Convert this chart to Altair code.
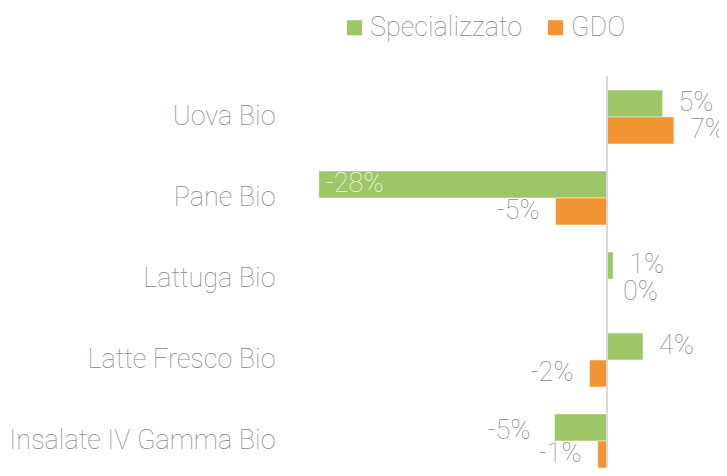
import altair as alt
import pandas as pd

categories = ["Uova Bio", "Pane Bio", "Lattuga Bio", "Latte Fresco Bio", "Insalate IV Gamma Bio"]
series = ["Specializzato", "GDO"]
specializzato = [5.4, -28.0, 0.6, 3.5, -5.1]
gdo = [6.5, -5.0, 0.0, -1.7, -0.9]
spec_labels = ["5%", "-28%", "1%", "4%", "-5%"]
gdo_labels = ["7%", "-5%", "0%", "-2%", "-1%"]
colors = ["#9DC767", "#F39433"]

rows = []
for i, c in enumerate(categories):
    for s, vals, labs in ((series[0], specializzato, spec_labels), (series[1], gdo, gdo_labels)):
        v = vals[i]
        side = "pos" if v >= 0 else "neg"
        if v <= -20:
            side = "inside"
        if c == "Insalate IV Gamma Bio" and s == "Specializzato":
            side = "lead"
        rows.append({"cat": c, "series": s, "value": v, "label": labs[i], "side": side})
df = pd.DataFrame(rows)

FONT = "Roboto"
W = 100
GRAY = "#8a8a8a"
DOMAIN = [-30.8, 10.88]

y = alt.Y("cat:N", sort=categories, title=None,
          scale=alt.Scale(paddingInner=1/3, paddingOuter=0.0864, align=1),
          axis=alt.Axis(labelFont=FONT, labelFontSize=27, labelFontWeight=W, labelColor=GRAY,
                        labelPadding=15, labelLimit=0, ticks=False, domain=False, grid=False))
yoff = alt.YOffset("series:N", sort=series, scale=alt.Scale(paddingInner=0, paddingOuter=0))
x = alt.X("value:Q", title=None, axis=None, scale=alt.Scale(domain=DOMAIN, nice=False, zero=False))

base = alt.Chart(df)

bars = base.mark_bar(stroke="white", strokeWidth=0.8, strokeOpacity=0.6).encode(
    x=x, y=y, yOffset=yoff,
    color=alt.Color("series:N", sort=series,
                    scale=alt.Scale(domain=series, range=colors),
                    legend=alt.Legend(orient="none", legendX=51, legendY=-62, direction="horizontal",
                                      title=None, symbolType="square", symbolSize=225, symbolStrokeWidth=0,
                                      labelFont=FONT, labelFontSize=27, labelFontWeight=W,
                                      labelColor=GRAY, labelOffset=2, columnPadding=19))
)

txt_kw = dict(font=FONT, fontSize=27, fontWeight=W, baseline="middle")
pos_txt = base.transform_filter("datum.side == 'pos'").mark_text(align="left", dx=16, color=GRAY, **txt_kw).encode(
    x=x, y=y, yOffset=yoff, text="label:N")
neg_txt = base.transform_filter("datum.side == 'neg'").mark_text(align="right", dx=-16, color=GRAY, **txt_kw).encode(
    x=x, y=y, yOffset=yoff, text="label:N")
lead_txt = base.transform_filter("datum.side == 'lead'").mark_text(align="right", dx=-24, dy=4, color=GRAY, **txt_kw).encode(
    x=x, y=y, yOffset=yoff, text="label:N")
in_txt = base.transform_filter("datum.side == 'inside'").mark_text(align="left", dx=7, color="#f2f7ea", **txt_kw).encode(
    x=x, y=y, yOffset=yoff, text="label:N")

rule = alt.Chart(pd.DataFrame({"z": [0]})).mark_rule(color="#d9d9d9", strokeWidth=2).encode(
    x=alt.X("z:Q", scale=alt.Scale(domain=DOMAIN, nice=False, zero=False), axis=None))

chart = alt.layer(bars, rule, pos_txt, neg_txt, lead_txt, in_txt).properties(
    width=429, height=392,
    autosize=alt.AutoSizeParams(type="none"),
    padding={"left": 282, "top": 68, "right": 0, "bottom": 0},
).configure_view(stroke=None)

chart.save("out.html", embed_options={"renderer": "svg", "actions": False})
